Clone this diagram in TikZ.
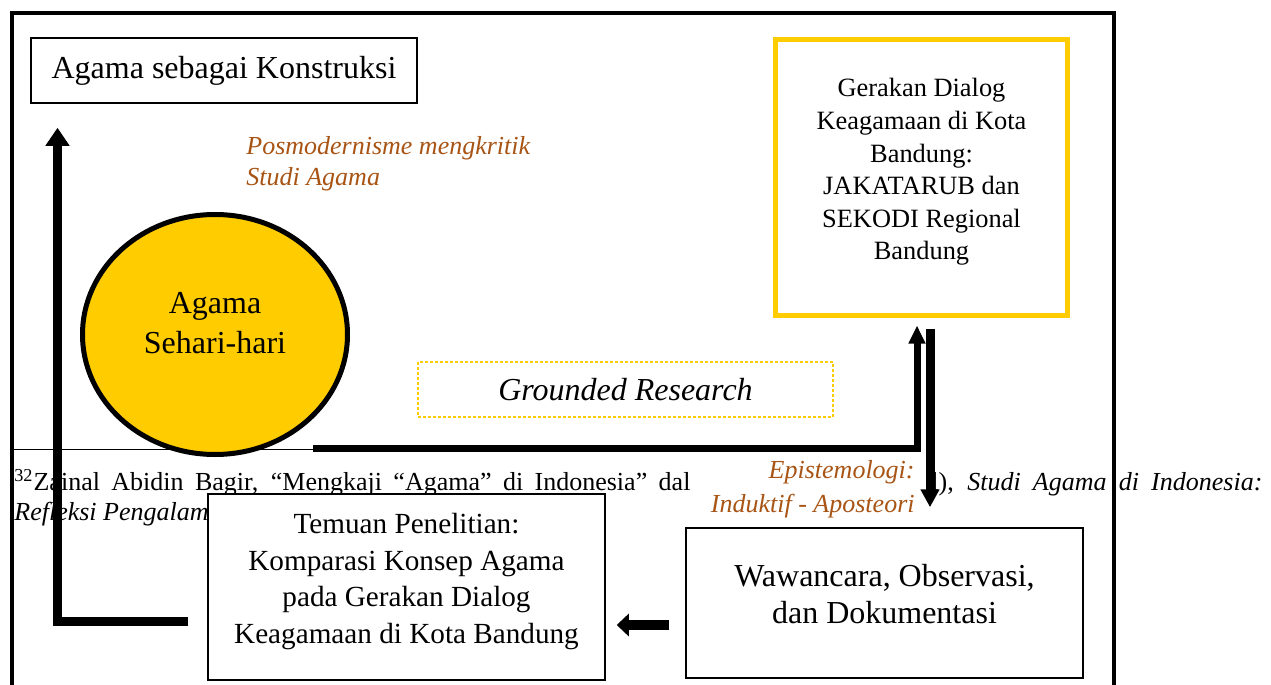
\documentclass[tikz,border=0pt]{standalone}
\usepackage{fontspec}
\setmainfont{Liberation Serif}
\usetikzlibrary{shapes.geometric,arrows.meta}
\definecolor{gold}{RGB}{255,204,0}
\definecolor{brownlabel}{RGB}{168,84,20}

\begin{document}
\begin{tikzpicture}[x=0.5pt,y=-0.5pt]
   \tikzstyle{box}=[draw, line width=0.75pt, fill=white, inner sep=0pt]
   \tikzstyle{caption}=[inner sep=0pt, align=center]
   \tikzstyle{note}=[inner sep=0pt, text=brownlabel]
   \tikzstyle{footnote}=[inner sep=0pt, anchor=base west, font=\fontsize{13}{15}\selectfont]
   \tikzstyle{flow}=[line width=4pt]

   \useasboundingbox (0,0) rectangle (1271,685);
   \clip (0,0) rectangle (1271,685);

\node[footnote] (fn left) at (14,490) {\makebox[338pt][s]{\textsuperscript{32}Zainal Abidin Bagir, “Mengkaji “Agama” di Indonesia” dal}};
\node[footnote] (fn right) at (931,490) {\makebox[165.5pt][s]{l), \textit{Studi Agama di Indonesia:}}};
\node[footnote] (fn second) at (14,520) {\textit{Refleksi Pengalam}};

\draw[line width=2.25pt] (12,720) -- (12,13) -- (1114,13) -- (1114,720);
\draw[line width=0.5pt] (12,449) -- (313,449);

\node[box, minimum width=193pt, minimum height=32.5pt, font=\fontsize{16}{19}\selectfont] (konstruksi) at (224,70.5) {Agama sebagai Konstruksi};
\node[note, anchor=west, align=left, font=\fontsize{13}{15.5}\selectfont\itshape] (posmo) at (246,164) {Posmodernisme mengkritik\\Studi Agama};

\node[ellipse, draw, line width=2.5pt, fill=gold, minimum width=132.5pt, minimum height=120pt, inner sep=0pt] (sehari) at (215,334.5) {};
\node[caption, font=\fontsize{16}{20}\selectfont] (sehari text) at ([yshift=5.75pt]sehari.center) {Agama\\Sehari-hari};

\node[draw=gold, line width=0.6pt, dash pattern=on 1.5pt off 1pt, minimum width=207.5pt, minimum height=27.5pt, inner sep=0pt, font=\fontsize{16}{19}\selectfont\itshape] (grounded) at (625.5,389.5) {Grounded Research};

\node[box, draw=gold, line width=2.5pt, minimum width=146pt, minimum height=138pt] (gerakan) at (921.5,177.5) {};
\node[caption, font=\fontsize{13.2}{16.3}\selectfont] (gerakan text) at ([yshift=2.75pt]gerakan.center) {Gerakan Dialog\\Keagamaan di Kota\\Bandung:\\JAKATARUB dan\\SEKODI Regional\\Bandung};

\node[note, anchor=east, align=right, font=\fontsize{13}{17}\selectfont\itshape] (episteme) at (915,489.5) {Epistemologi:\\Induktif - Aposteori};

\node[box, minimum width=198.5pt, minimum height=93pt] (temuan) at (406.5,587) {};
\node[caption, font=\fontsize{14.6}{18.3}\selectfont] (temuan text) at ([yshift=2.75pt]temuan.center) {Temuan Penelitian:\\Komparasi Konsep Agama\\pada Gerakan Dialog\\Keagamaan di Kota Bandung};

\node[box, minimum width=198.5pt, minimum height=75pt] (wawancara) at (884.5,603) {};
\node[caption, font=\fontsize{16}{18.5}\selectfont] (wawancara text) at ([yshift=4.25pt]wawancara.center) {Wawancara, Observasi,\\dan Dokumentasi};

\coordinate (sehari out) at (313,448.5);

\draw[flow, line width=3.5pt, -{Triangle[length=9pt,width=8pt]}, shorten >=3.75pt] (sehari out) -| (gerakan.south -| 917,0);
\draw[flow, line width=4.5pt, -{Triangle[length=9pt,width=9pt]}, shorten <=5.25pt, shorten >=10pt] (gerakan.south -| 930,0) -- (wawancara.north -| 930,0);
\draw[flow, line width=5pt, -{Triangle[length=6pt,width=11pt]}, shorten <=8pt, shorten >=5.5pt] (wawancara.west |- 0,625) -- (temuan.east |- 0,625);
\draw[flow, line width=4.5pt, -{Triangle[length=9pt,width=11.5pt]}, shorten <=9.5pt, shorten >=12pt] (temuan.west |- 0,621.5) -| (konstruksi.south -| 57.5,0);

\end{tikzpicture}
\end{document}
